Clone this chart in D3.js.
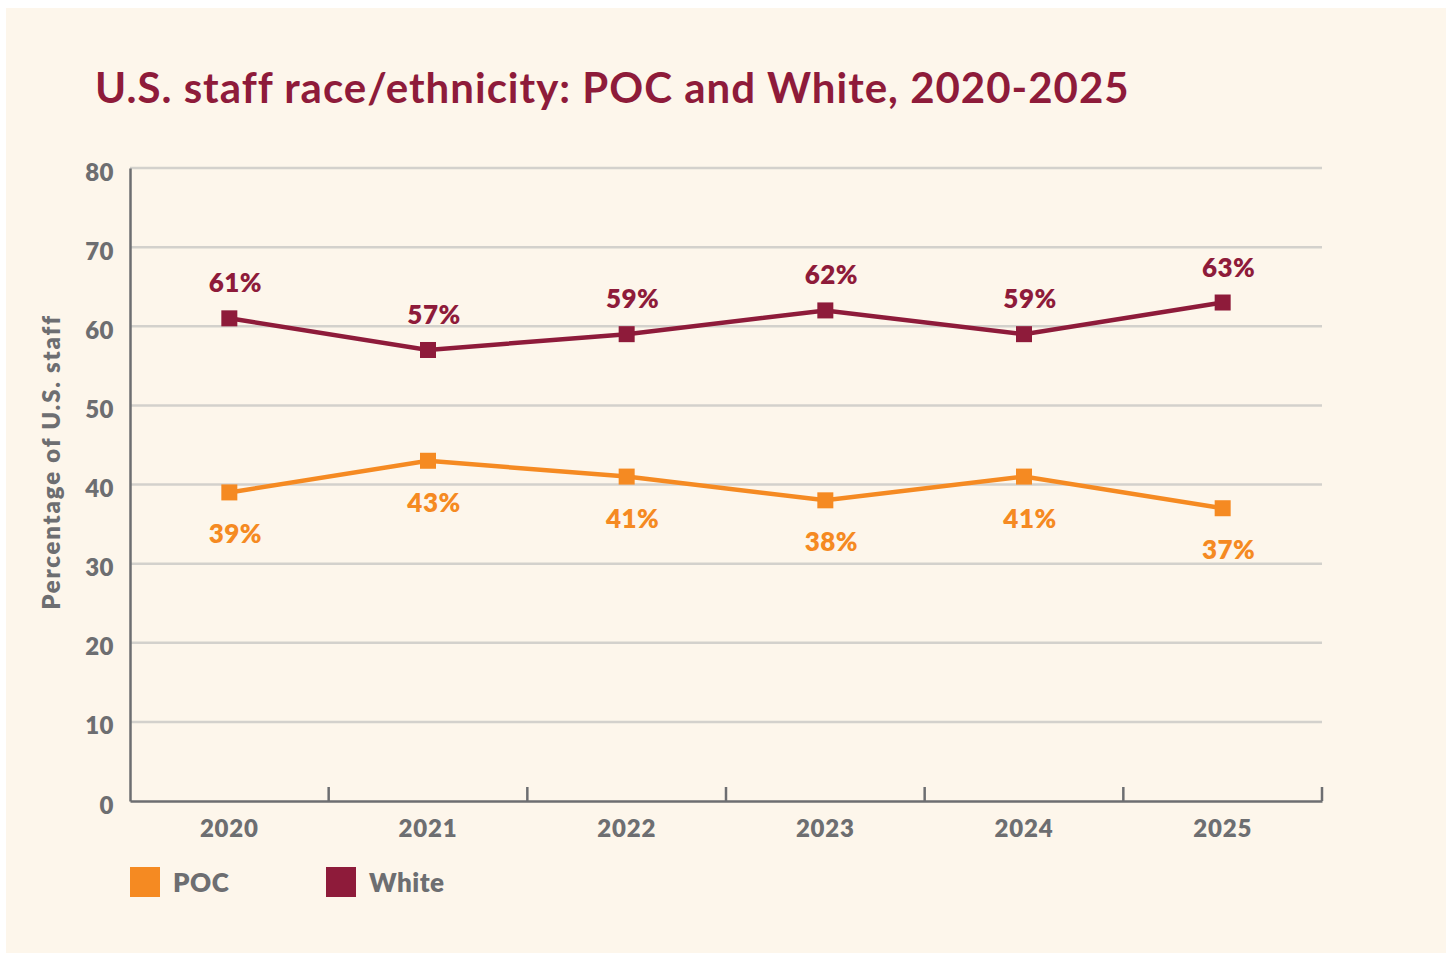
<!DOCTYPE html>
<html><head><meta charset="utf-8">
<script src="https://cdn.jsdelivr.net/npm/d3@7"></script>
<style>
html,body{margin:0;padding:0;background:#fff;}
svg{display:block;font-family:Lato,"Open Sans",sans-serif;}
</style></head>
<body>
<svg id="chart" width="1452" height="955"></svg>
<script>
const years = ["2020","2021","2022","2023","2024","2025"];
const pocValues = [39,43,41,38,41,37];
const whiteValues = [61,57,59,62,59,63];
const yTicks = [0,10,20,30,40,50,60,70,80];
const seriesNames = ["POC","White"];
const seriesColors = ["#f58a22","#8e1b3a"];

(function(){
const svg = d3.select("#chart");
svg.append("rect").attr("x",6).attr("y",8).attr("width",1440).attr("height",945).attr("fill","#fdf6eb");

svg.append("text").attr("x",95).attr("y",103).attr("font-size",42).attr("font-weight",700)
  .attr("letter-spacing",1.0)
  .attr("fill","#8e1b3a").text("U.S. staff race/ethnicity: POC and White, 2020-2025");

const pL=130,pR=1322,pT=168,pB=801;
const x = d3.scaleBand().domain(years).range([pL,pR]);
const y = d3.scaleLinear().domain([0,80]).range([pB,pT]);
const grey="#6d6e71";

svg.append("g").selectAll("line").data(yTicks.filter(d=>d>0)).join("line")
  .attr("x1",pL).attr("x2",pR).attr("y1",d=>y(d)).attr("y2",d=>y(d))
  .attr("stroke","#d3d1cc").attr("stroke-width",2.5);

const yAxis = svg.append("g").attr("transform",`translate(${pL},0)`)
  .call(d3.axisLeft(y).tickValues(yTicks).tickSize(0).tickPadding(16));
yAxis.select(".domain").attr("stroke",grey).attr("stroke-width",2.5);
yAxis.selectAll("text").attr("font-size",24).attr("font-weight",800).attr("fill",grey)
  .attr("letter-spacing",0.5)
  .attr("font-family","Lato,sans-serif").attr("dy","0.5em");

const xAxis = svg.append("g").attr("transform",`translate(0,${pB})`)
  .call(d3.axisBottom(x).tickSize(0).tickPadding(19));
xAxis.select(".domain").attr("stroke",grey).attr("stroke-width",2.5);
xAxis.selectAll("text").attr("font-size",24).attr("font-weight",800).attr("fill",grey)
  .attr("letter-spacing",0.8)
  .attr("font-family","Lato,sans-serif");
const bounds = years.map(d=>x(d)).concat([pR]);
svg.append("g").selectAll("line").data(bounds.slice(1)).join("line")
  .attr("x1",d=>d).attr("x2",d=>d).attr("y1",pB-14).attr("y2",pB)
  .attr("stroke",grey).attr("stroke-width",2.5);

svg.append("text").attr("transform","translate(60,462) rotate(-90)").attr("text-anchor","middle")
  .attr("font-size",24).attr("font-weight",800).attr("letter-spacing",1.8)
  .attr("fill",grey).text("Percentage of U.S. staff");

const cx = d=>x(d)+x.bandwidth()/2;
const line = d3.line().x((d,i)=>cx(years[i])).y(d=>y(d));
const series = [pocValues, whiteValues];
series.forEach((vals,si)=>{
  const col = seriesColors[si];
  svg.append("path").datum(vals).attr("d",line).attr("fill","none").attr("stroke",col).attr("stroke-width",4.5);
  svg.append("g").selectAll("rect").data(vals).join("rect")
    .attr("x",(d,i)=>cx(years[i])-8).attr("y",d=>y(d)-8).attr("width",16).attr("height",16).attr("fill",col);
  svg.append("g").selectAll("text").data(vals).join("text")
    .attr("x",(d,i)=>cx(years[i])+6).attr("y",d=>si===1 ? y(d)-26 : y(d)+51)
    .attr("text-anchor","middle").attr("font-size",26).attr("font-weight",800)
    .attr("letter-spacing",0.5).attr("fill",col)
    .text(d=>d+"%");
});

const legX=[130,326];
seriesNames.forEach((n,i)=>{
  svg.append("rect").attr("x",legX[i]).attr("y",867).attr("width",30).attr("height",30).attr("fill",seriesColors[i]);
  svg.append("text").attr("x",legX[i]+43).attr("y",892).attr("font-size",26).attr("font-weight",800)
    .attr("letter-spacing",0.5).attr("fill",grey).text(n);
});
})();
</script>
</body></html>
